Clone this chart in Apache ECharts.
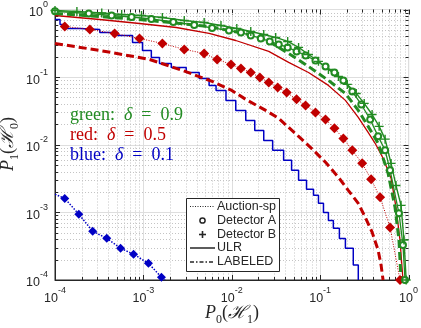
<!DOCTYPE html>
<html>
<head>
<meta charset="utf-8">
<script src="https://cdn.jsdelivr.net/npm/echarts@6/dist/echarts.min.js"></script>
<style>
  html, body { margin: 0; padding: 0; background: #fff; }
  #main { width: 421px; height: 328px; }
</style>
</head>
<body>
<div id="main"></div>
<script>
// tick labels (decades)
var xTicks = [1e-4, 1e-3, 1e-2, 1e-1, 1];
var xTickExp = ['-4', '-3', '-2', '-1', '0'];
var yTicks = [1e-4, 1e-3, 1e-2, 1e-1, 1];
var yTickExp = ['-4', '-3', '-2', '-1', '0'];

// green: delta = 0.9
var greenBX = [1e-4, 1.77e-4, 3.38e-4, 5.68e-4, 9.52e-4, 1.64e-3, 2.9e-3, 4.87e-3, 7.55e-3, 0.0114, 0.0164, 0.023, 0.0314, 0.0429, 0.057, 0.0738, 0.0957, 0.124, 0.161, 0.203, 0.256, 0.315, 0.387, 0.465, 0.543, 0.634, 0.721, 0.822, 0.888, 0.94];
var greenBY = [0.966, 0.934, 0.888, 0.844, 0.815, 0.762, 0.688, 0.643, 0.58, 0.524, 0.473, 0.427, 0.386, 0.337, 0.275, 0.216, 0.171, 0.13, 0.102, 0.078, 0.0574, 0.0409, 0.028, 0.0187, 0.0121, 0.0053, 0.0025, 0.00127, 0.00039, 0.0001];
var greenAX = [1e-4, 2.41e-4, 4.37e-4, 7.35e-4, 1.23e-3, 2.18e-3, 3.76e-3, 5.99e-3, 9.3e-3, 0.0127, 0.0164, 0.0213, 0.0269, 0.034, 0.0429, 0.0541, 0.0684, 0.0885, 0.115, 0.145, 0.183, 0.231, 0.292, 0.368, 0.453, 0.543, 0.618, 0.779, 0.865, 0.912];
var greenAY = [0.94, 0.873, 0.815, 0.775, 0.724, 0.654, 0.59, 0.533, 0.489, 0.457, 0.413, 0.373, 0.337, 0.304, 0.275, 0.24, 0.209, 0.176, 0.144, 0.117, 0.0894, 0.0612, 0.0394, 0.0237, 0.0133, 0.0083, 0.0042, 0.00097, 0.00033, 0.0001];
var greenLabX = [1e-4, 3.21e-4, 1.17e-3, 5.54e-3, 0.0156, 0.0262, 0.044, 0.0738, 0.124, 0.193, 0.27, 0.349, 0.453, 0.587, 0.703, 0.779, 0.822];
var greenLabY = [0.873, 0.788, 0.688, 0.561, 0.427, 0.337, 0.224, 0.144, 0.0894, 0.0574, 0.0322, 0.0187, 0.0105, 0.00378, 0.00119, 0.00039, 0.0001];

// red: delta = 0.5
var redUlrX = [1e-4, 3.21e-4, 9.04e-4, 2.36e-3, 5.54e-3, 0.0111, 0.0262, 0.044, 0.0738, 0.124, 0.193, 0.27, 0.349, 0.419, 0.515, 0.634, 0.721, 0.8, 0.865];
var redUlrY = [0.815, 0.711, 0.621, 0.542, 0.442, 0.348, 0.24, 0.165, 0.117, 0.0754, 0.0453, 0.0254, 0.0152, 0.0105, 0.0063, 0.0032, 0.00119, 0.00039, 0.0001];
var redLabX = [1e-4, 3.21e-4, 1.17e-3, 2.75e-3, 5.99e-3, 0.01, 0.0144, 0.0242, 0.034, 0.057, 0.0798, 0.115, 0.161, 0.208, 0.27, 0.323, 0.387, 0.453, 0.489, 0.515];
var redLabY = [0.315, 0.248, 0.183, 0.126, 0.0864, 0.0636, 0.0469, 0.0322, 0.0245, 0.0133, 0.00885, 0.0055, 0.0033, 0.00212, 0.00136, 0.00085, 0.00051, 0.000275, 0.000166, 0.0001];
var redAucX = [1.29e-4, 2.48e-4, 4.73e-4, 9.04e-4, 1.64e-3, 2.9e-3, 4.87e-3, 6.83e-3, 9.8e-3, 0.0127, 0.0164, 0.0208, 0.0262, 0.0331, 0.0418, 0.0541, 0.0684, 0.0885, 0.115, 0.145, 0.183, 0.231, 0.299, 0.377, 0.477, 0.618, 0.8];
var redAucY = [0.561, 0.507, 0.442, 0.373, 0.315, 0.257, 0.224, 0.183, 0.154, 0.134, 0.117, 0.099, 0.0835, 0.0705, 0.0594, 0.0469, 0.0382, 0.0301, 0.0237, 0.0175, 0.0124, 0.00826, 0.00531, 0.00308, 0.00167, 0.0006, 0.0001];

// blue: delta = 0.1
var blueUlrX = [1e-4, 1.14e-4, 1.23e-4, 1.91e-4, 3.21e-4, 5.12e-4, 7.54e-4, 9.77e-4, 1.23e-3, 1.52e-3, 2.07e-3, 3.05e-3, 4.28e-3, 5.54e-3, 6.64e-3, 8.6e-3, 0.0111, 0.0144, 0.0182, 0.023, 0.029, 0.0386, 0.0475, 0.057, 0.0701, 0.0841, 0.0957, 0.109, 0.124, 0.141, 0.165, 0.193, 0.237, 0.27];
var blueUlrY = [0.711, 0.6, 0.524, 0.507, 0.457, 0.413, 0.326, 0.248, 0.195, 0.159, 0.139, 0.117, 0.0957, 0.0754, 0.0636, 0.0453, 0.0322, 0.0229, 0.0163, 0.0116, 0.00826, 0.00589, 0.0042, 0.00298, 0.00219, 0.00179, 0.00136, 0.001, 0.00076, 0.00058, 0.00041, 0.000295, 0.000166, 0.0001];
var blueAucX = [1e-4, 1.29e-4, 1.86e-4, 2.67e-4, 3.85e-4, 5.52e-4, 7.74e-4, 1.14e-3, 1.6e-3, 1.76e-3];
var blueAucY = [0.00185, 0.00161, 0.00094, 0.000526, 0.000414, 0.000295, 0.00024, 0.000177, 0.00011, 0.0001];

var GREEN = '#228b22', RED = '#c00000', BLUE = '#0000c4', INK = '#262626';
var SANS = 'Liberation Sans, Arial, sans-serif';
var SERIF = 'Liberation Serif, Times New Roman, serif';
var PLUS = 'path://M5,0V10M0,5H10';

function zip(xs, ys) {
  return xs.map(function (x, i) { return [x, ys[i]]; });
}
// first/last point of a curve carry no marker
function zipEndsBare(xs, ys) {
  return xs.map(function (x, i) {
    var item = { value: [x, ys[i]] };
    if (i === 0 || i === xs.length - 1) item.symbol = 'none';
    return item;
  });
}

// minor grid positions 2..9 per decade
var minorVals = [];
for (var e = -4; e < 0; e++) {
  for (var m = 2; m <= 9; m++) minorVals.push(m * Math.pow(10, e));
}

function tickLabel(ticks, exps) {
  return function (v) {
    for (var i = 0; i < ticks.length; i++) {
      if (Math.abs(Math.log10(v) - Math.log10(ticks[i])) < 1e-6) return '{b|10}{s|' + exps[i] + '}';
    }
    return '';
  };
}
var labelRich = {
  b: { fontSize: 12.5, fontFamily: SANS, color: INK, lineHeight: 19, verticalAlign: 'bottom' },
  s: { fontSize: 9, fontFamily: SANS, color: INK, lineHeight: 10, verticalAlign: 'top' }
};

function gridRender(isX) {
  return function (params, api) {
    var cs = params.coordSys;
    var v = api.value(0);
    var major = api.value(2) === 1;
    var len = major ? 5 : 3;
    var kids = [];
    if (isX) {
      var px = Math.round(api.coord([v, 1])[0]) + 0.5;
      if (!major) kids.push({ type: 'line', shape: { x1: px, y1: cs.y, x2: px, y2: cs.y + cs.height }, style: { stroke: '#c4c4c4', lineWidth: 1, lineDash: [1, 2] } });
      kids.push({ type: 'line', shape: { x1: px, y1: cs.y + cs.height, x2: px, y2: cs.y + cs.height - len }, style: { stroke: INK, lineWidth: 1 } });
      kids.push({ type: 'line', shape: { x1: px, y1: cs.y, x2: px, y2: cs.y + len }, style: { stroke: INK, lineWidth: 1 } });
    } else {
      var py = Math.round(api.coord([1e-4, v])[1]) + 0.5;
      if (!major) kids.push({ type: 'line', shape: { x1: cs.x, y1: py, x2: cs.x + cs.width, y2: py }, style: { stroke: '#c4c4c4', lineWidth: 1, lineDash: [1, 2] } });
      kids.push({ type: 'line', shape: { x1: cs.x, y1: py, x2: cs.x + len, y2: py }, style: { stroke: INK, lineWidth: 1 } });
      kids.push({ type: 'line', shape: { x1: cs.x + cs.width, y1: py, x2: cs.x + cs.width - len, y2: py }, style: { stroke: INK, lineWidth: 1 } });
    }
    return { type: 'group', children: kids };
  };
}
var xGridData = minorVals.map(function (v) { return [v, 1, 0]; }).concat(xTicks.map(function (v) { return [v, 1, 1]; }));
var yGridData = minorVals.map(function (v) { return [v, v, 0]; }).concat(yTicks.map(function (v) { return [v, v, 1]; }));

var chart = echarts.init(document.getElementById('main'));

// legend box drawn as graphics
var LX = 186, LY = 198;
var legendRows = [206.5, 220.5, 234.5, 248, 262];
var legendNames = ['Auction-sp', 'Detector A', 'Detector B', 'ULR', 'LABELED'];
var legendGraphics = [
  { type: 'rect', shape: { x: LX + 0.5, y: LY + 0.5, width: 93, height: 73 }, style: { fill: '#fff', stroke: INK, lineWidth: 1 }, z: 100 },
  { type: 'line', shape: { x1: 190, y1: legendRows[0], x2: 215, y2: legendRows[0] }, style: { stroke: INK, lineWidth: 1, lineDash: [1, 1.5] }, z: 101 },
  { type: 'circle', shape: { cx: 202.5, cy: legendRows[1], r: 2.6 }, style: { fill: '#fff', stroke: INK, lineWidth: 1.5 }, z: 101 },
  { type: 'line', shape: { x1: 199, y1: legendRows[2], x2: 206, y2: legendRows[2] }, style: { stroke: INK, lineWidth: 1.6 }, z: 101 },
  { type: 'line', shape: { x1: 202.5, y1: legendRows[2] - 3.5, x2: 202.5, y2: legendRows[2] + 3.5 }, style: { stroke: INK, lineWidth: 1.6 }, z: 101 },
  { type: 'line', shape: { x1: 190, y1: legendRows[3], x2: 215, y2: legendRows[3] }, style: { stroke: INK, lineWidth: 1.5 }, z: 101 },
  { type: 'line', shape: { x1: 190, y1: legendRows[4], x2: 215, y2: legendRows[4] }, style: { stroke: INK, lineWidth: 1.5, lineDash: [4, 2, 1.5, 2] }, z: 101 }
];
legendNames.forEach(function (n, i) {
  legendGraphics.push({ type: 'text', x: 217, y: legendRows[i], z: 101,
    style: { text: n, fill: INK, font: '12.5px ' + SANS, verticalAlign: 'middle' } });
});

function note(label, val, color, y) {
  return { type: 'text', x: 70, y: y, z: 50,
    style: {
      text: '{t|' + label + '  }{d|δ}{t|  =  ' + val + '}',
      verticalAlign: 'middle',
      rich: {
        t: { fontSize: 18, fontFamily: SERIF, fill: color, color: color },
        d: { fontSize: 18, fontFamily: SERIF, fontStyle: 'italic', fill: color, color: color }
      }
    } };
}

var titleRich = {
  i: { fontSize: 18, fontFamily: SERIF, fontStyle: 'italic', lineHeight: 22, verticalAlign: 'top', fill: INK, color: INK },
  t: { fontSize: 18, fontFamily: SERIF, lineHeight: 22, verticalAlign: 'top', fill: INK, color: INK },
  sb: { fontSize: 12, fontFamily: SERIF, lineHeight: 12, verticalAlign: 'bottom', fill: INK, color: INK }
};

chart.setOption({
  animation: false,
  backgroundColor: '#fff',
  grid: { left: 55, right: 10, top: 9, bottom: 48, show: true, borderColor: INK, borderWidth: 1, backgroundColor: 'transparent' },
  xAxis: {
    type: 'log', logBase: 10, min: 1e-4, max: 1, splitNumber: 4,
    axisLine: { lineStyle: { color: INK } },
    axisTick: { show: false },
    splitLine: { show: true, lineStyle: { color: '#dedede', width: 1 } },
    axisLabel: { formatter: tickLabel(xTicks, xTickExp), rich: labelRich, margin: 6, showMinLabel: true, showMaxLabel: true, interval: 0 }
  },
  yAxis: {
    type: 'log', logBase: 10, min: 1e-4, max: 1, splitNumber: 4,
    axisLine: { lineStyle: { color: INK } },
    axisTick: { show: false },
    splitLine: { show: true, lineStyle: { color: '#dedede', width: 1 } },
    axisLabel: { formatter: tickLabel(yTicks, yTickExp), rich: labelRich, margin: 7, showMinLabel: true, showMaxLabel: true, interval: 0 }
  },
  graphic: legendGraphics.concat([
    note('green:', '0.9', GREEN, 115),
    note('red:', '0.5', RED, 135),
    note('blue:', '0.1', BLUE, 155),
    { type: 'text', x: 232, y: 315, z: 50,
      style: { text: '{i|P}{sb|0}{t|(}{i|ℋ}{sb|1}{t|)}', align: 'center', verticalAlign: 'middle', rich: titleRich } },
    { type: 'text', x: 10, y: 144, rotation: Math.PI / 2, z: 50,
      style: { text: '{i|P}{sb|1}{t|(}{i|ℋ}{sb|0}{t|)}', align: 'center', verticalAlign: 'middle', rich: titleRich } }
  ]),
  series: [
    { type: 'custom', coordinateSystem: 'cartesian2d', silent: true, z: 1, clip: false, data: xGridData, renderItem: gridRender(true) },
    { type: 'custom', coordinateSystem: 'cartesian2d', silent: true, z: 1, clip: false, data: yGridData, renderItem: gridRender(false) },
    { name: 'blue ULR', type: 'line', step: 'end', data: zip(blueUlrX, blueUlrY), showSymbol: false,
      lineStyle: { color: BLUE, width: 1.5 } },
    { name: 'blue Auction', type: 'line', data: zipEndsBare(blueAucX, blueAucY), symbol: 'diamond', symbolSize: 9,
      itemStyle: { color: BLUE }, lineStyle: { color: BLUE, width: 1.5, type: [1.5, 1.5] } },
    { name: 'red LABELED', type: 'line', data: zip(redLabX, redLabY), showSymbol: false,
      lineStyle: { color: RED, width: 3, type: [8, 4] } },
    { name: 'red ULR', type: 'line', data: zip(redUlrX, redUlrY), showSymbol: false,
      lineStyle: { color: RED, width: 1.3 } },
    { name: 'red Auction', type: 'line', data: zip(redAucX, redAucY), symbol: 'diamond', symbolSize: 10,
      itemStyle: { color: RED }, lineStyle: { color: RED, width: 1, type: [1, 1.5] } },
    { name: 'green LABELED', type: 'line', data: zip(greenLabX, greenLabY), showSymbol: false,
      lineStyle: { color: GREEN, width: 3, type: [8, 4] } },
    { name: 'green A', type: 'line', data: zip(greenAX, greenAY), symbol: 'emptyCircle', symbolSize: 6,
      itemStyle: { color: GREEN, borderColor: GREEN, borderWidth: 1.3 }, lineStyle: { color: GREEN, width: 1.3 } },
    { name: 'green B', type: 'line', data: zip(greenBX, greenBY), symbol: PLUS, symbolSize: 9,
      itemStyle: { color: 'rgba(0,0,0,0)', borderColor: GREEN, borderWidth: 1.4 }, lineStyle: { color: GREEN, width: 1.4 } }
  ]
});
</script>
</body>
</html>
